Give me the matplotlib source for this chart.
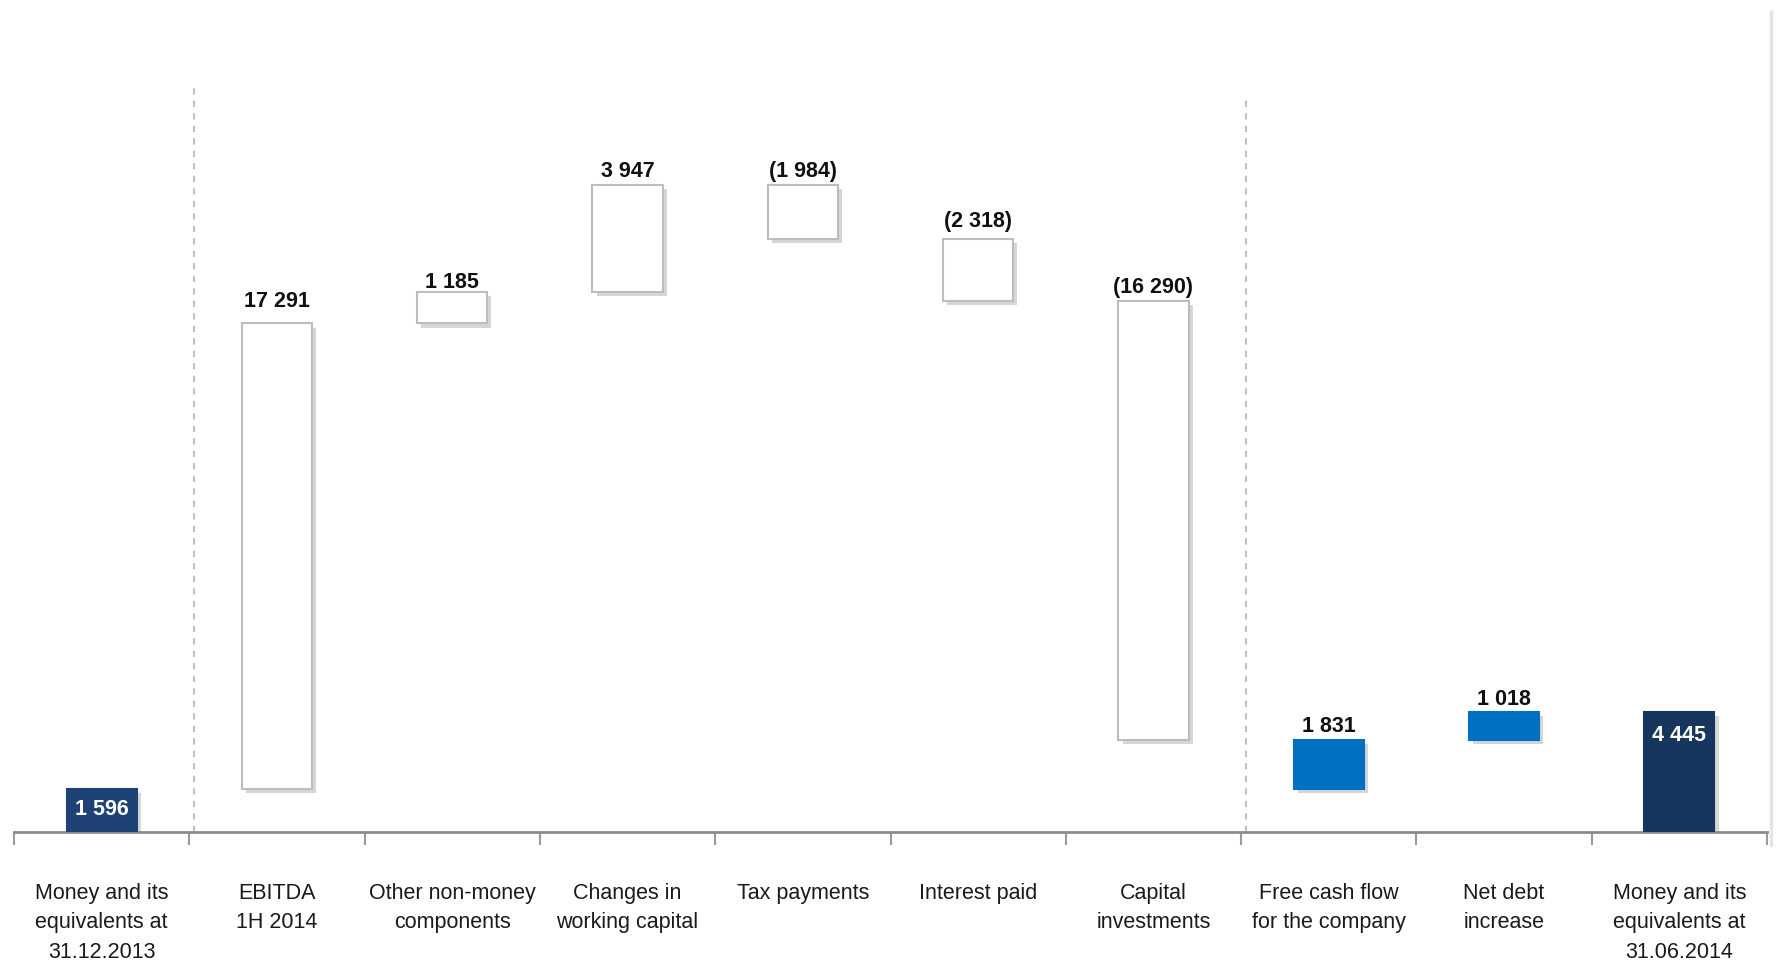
import matplotlib.pyplot as plt
import matplotlib.patheffects as pe
from matplotlib.lines import Line2D

categories = [
    "Money and its\nequivalents at\n31.12.2013",
    "EBITDA\n1H 2014",
    "Other non-money\ncomponents",
    "Changes in\nworking capital",
    "Tax payments",
    "Interest paid",
    "Capital\ninvestments",
    "Free cash flow\nfor the company",
    "Net debt\nincrease",
    "Money and its\nequivalents at\n31.06.2014",
]
values = [1596, 17291, 1185, 3947, -1984, -2318, -16290, 1831, 1018, 4445]
# start/end = from zero, delta = step, fcf = step from the opening balance
kinds = ["start", "delta", "delta", "delta", "delta", "delta", "delta", "fcf", "delta", "end"]

# small nudges (points) for the value labels, as placed in the original
label_nudge = [-7, 8, -1, 2, 2, 5, 2, 2, 2, -9]

FONT = ["Liberation Sans Narrow", "Liberation Sans", "DejaVu Sans"]
plt.rcParams["font.family"] = FONT


def fmt(v):
    s = f"{abs(v):,}".replace(",", " ")
    return f"({s})" if v < 0 else s


def waterfall(values, kinds):
    bottoms, tops = [], []
    running = 0
    for v, k in zip(values, kinds):
        if k in ("start", "end"):
            b, t = 0, v
            running = v
        elif k == "fcf":
            b = values[0]
            t = b + v
            running = t
        else:
            b = running
            t = running + v
            running = t
        bottoms.append(min(b, t))
        tops.append(max(b, t))
    return bottoms, tops


fig = plt.figure(figsize=(17.79, 9.71), dpi=100)
ax = fig.add_axes([14 / 1779, 139 / 971, 1753 / 1779, 832 / 971])
ax.set_xlim(-0.5, 9.5)
ax.set_ylim(0, 30900)

bottoms, tops = waterfall(values, kinds)
shadow = [pe.SimplePatchShadow(offset=(3, -3), shadow_rgbFace="0.55", alpha=0.35), pe.Normal()]

for i, (v, k, b, t) in enumerate(zip(values, kinds, bottoms, tops)):
    if k == "start":
        face, edge = "#1e4276", "#1e4276"
    elif k == "end":
        face, edge = "#17365d", "#17365d"
    elif k == "fcf" or i == 8:
        face, edge = "#0070c0", "#0070c0"
    else:
        face, edge = "white", "#bdbdbd"
    bar = ax.bar(i, t - b, bottom=b, width=0.40, color=face, edgecolor=edge,
                 linewidth=1.5, zorder=3)
    for p in bar:
        p.set_path_effects(shadow)

    if k in ("start", "end"):
        ax.annotate(fmt(v), (i, t), xytext=(0, label_nudge[i]), textcoords="offset points",
                    ha="center", va="top", color="white", fontsize=15.5,
                    fontweight="bold", zorder=5)
    else:
        ax.annotate(fmt(v), (i, t), xytext=(0, label_nudge[i]), textcoords="offset points",
                    ha="center", va="bottom", color="#111111", fontsize=15.5,
                    fontweight="bold", zorder=5)

# dashed separators
ax.plot([0.527, 0.527], [0, 27700], ls=(0, (3, 3)), color="#c0c0c0", lw=1.5, zorder=1)
ax.plot([6.528, 6.528], [0, 27300], ls=(0, (3, 3)), color="#c0c0c0", lw=1.5, zorder=1)

# axes styling
for s in ["top", "right", "left"]:
    ax.spines[s].set_visible(False)
ax.spines["bottom"].set_color("#8c8c8c")
ax.spines["bottom"].set_linewidth(2)
ax.set_yticks([])
ax.set_xticks([x - 0.5 for x in range(11)])
ax.set_xticklabels([])
ax.tick_params(axis="x", direction="out", length=9, width=1.5, color="#9a9a9a")

for i, lab in enumerate(categories):
    ax.text(i, -1880, lab, ha="center", va="top", fontsize=15.5, color="#1a1a1a",
            linespacing=1.55, clip_on=False)

fig.add_artist(Line2D([1771 / 1779] * 2, [1 - 12 / 971, 1 - 845 / 971],
                      transform=fig.transFigure, color="#e4e4e4", lw=2.5))

fig.savefig("out.png", dpi=100, facecolor="white")
